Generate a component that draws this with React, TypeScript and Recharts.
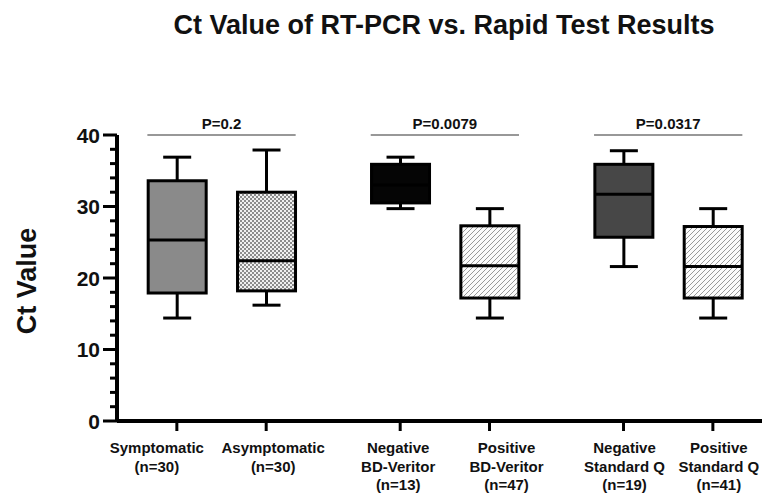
import { Bar, ComposedChart, ReferenceLine, XAxis, YAxis } from 'recharts';

// Box plot of Ct values: whisker low, Q1, median, Q3, whisker high per group
const categories = [
  ['Symptomatic', '(n=30)'],
  ['Asymptomatic', '(n=30)'],
  ['Negative', 'BD-Veritor', '(n=13)'],
  ['Positive', 'BD-Veritor', '(n=47)'],
  ['Negative', 'Standard Q', '(n=19)'],
  ['Positive', 'Standard Q', '(n=41)'],
];
const mins = [14.4, 16.2, 29.7, 14.4, 21.6, 14.4];
const q1s = [17.9, 18.2, 30.5, 17.2, 25.7, 17.2];
const medians = [25.3, 22.4, 33.0, 21.7, 31.7, 21.6];
const q3s = [33.6, 32.0, 35.9, 27.3, 35.9, 27.2];
const maxs = [36.9, 37.9, 36.9, 29.7, 37.8, 29.7];

// one p-value per pair of groups, drawn at the top of the axis
const pValues = ['P=0.2', 'P=0.0079', 'P=0.0317'];
const bracketLevel = 40;

const yTicks = [0, 2, 4, 6, 8, 10, 12, 14, 16, 18, 20, 22, 24, 26, 28, 30, 32, 34, 36, 38, 40];
const yLabels = [0, 10, 20, 30, 40];

// styling
const FONT = '"Liberation Sans", Arial, Helvetica, sans-serif';
const fills = ['#8a8a8a', 'url(#checker)', '#050505', 'url(#hatch)', '#474747', 'url(#hatch)'];
const labelNudge = [-20, 7, -2, 17, 1, 6];
const PAIR_STEP = 2.5; // pairs sit 1.5 slots apart

const slotOf = (i: number) => Math.floor(i / 2) * PAIR_STEP + (i % 2);

const rows = categories.map((lines, i) => ({
  slot: slotOf(i),
  lines,
  min: mins[i],
  q1: q1s[i],
  med: medians[i],
  q3: q3s[i],
  max: maxs[i],
  fill: fills[i],
  nudge: labelNudge[i],
}));

function BoxShape(props: any) {
  const { x, y, width, height, payload } = props;
  const { min, q1, med, q3, max, fill } = payload;
  const py = (v: number) => y + ((max - v) / (max - min)) * height;
  const cx = x + width / 2;
  const sw = 3;
  return (
    <g stroke="#000" strokeWidth={sw} fill="none">
      <line x1={cx} x2={cx} y1={py(max)} y2={py(q3)} />
      <line x1={cx} x2={cx} y1={py(q1)} y2={py(min)} />
      <line x1={cx - 14} x2={cx + 14} y1={py(max)} y2={py(max)} />
      <line x1={cx - 14} x2={cx + 14} y1={py(min)} y2={py(min)} />
      <rect x={x} y={py(q3)} width={width} height={py(q1) - py(q3)} fill={fill} />
      <line x1={x} x2={x + width} y1={py(med)} y2={py(med)} />
    </g>
  );
}

function YTick(props: any) {
  const { x, y, payload } = props;
  const major = yLabels.includes(payload.value);
  return (
    <g>
      <line x1={x - (major ? 14 : 7)} x2={x} y1={y} y2={y} stroke="#000" strokeWidth={3} />
      {major && (
        <text x={x - 17} y={y + 7.5} textAnchor="end" fontFamily={FONT} fontWeight="bold" fontSize={21} fill="#111">
          {payload.value}
        </text>
      )}
    </g>
  );
}

function XTick(props: any) {
  const { x, y, payload, index } = props;
  const row = rows.find((r) => r.slot === payload.value) ?? rows[index];
  return (
    <g>
      <line x1={x} x2={x} y1={y} y2={y + 10} stroke="#000" strokeWidth={3} />
      <text textAnchor="middle" fontFamily={FONT} fontWeight="bold" fontSize={15} fill="#111">
        {row.lines.map((t, k) => (
          <tspan key={k} x={x + row.nudge} y={y + 32 + k * 18.5}>
            {t}
          </tspan>
        ))}
      </text>
    </g>
  );
}

export default function App() {
  return (
    <div style={{ position: 'absolute', left: 0, top: 0, width: 769, height: 493, background: '#fff' }}>
      <ComposedChart
        width={769}
        height={493}
        data={rows}
        margin={{ top: 135, right: 7, bottom: 0, left: 0 }}
      >
        <XAxis
          type="number"
          dataKey="slot"
          domain={[-0.67, 6.55]}
          ticks={rows.map((r) => r.slot)}
          interval={0}
          tickSize={0}
          tickMargin={0}
          height={72}
          tick={<XTick />}
          axisLine={{ stroke: '#000', strokeWidth: 4 }}
        />
        <YAxis
          type="number"
          domain={[0, 40]}
          ticks={yTicks}
          interval={0}
          tickSize={0}
          tickMargin={0}
          width={117}
          tick={<YTick />}
          axisLine={{ stroke: '#000', strokeWidth: 4 }}
        />
        {pValues.map((p, k) => (
          <ReferenceLine
            key={p}
            segment={[
              { x: slotOf(2 * k) - 0.33, y: bracketLevel },
              { x: slotOf(2 * k + 1) + 0.33, y: bracketLevel },
            ]}
            stroke="#333"
            strokeWidth={1.2}
            ifOverflow="visible"
            label={{
              value: p,
              position: 'top',
              offset: 6,
              fill: '#111',
              fontSize: 15,
              fontWeight: 'bold',
              fontFamily: FONT,
            }}
          />
        ))}
        <Bar dataKey={(d: any) => [d.min, d.max]} barSize={58} shape={<BoxShape />} isAnimationActive={false} />
      </ComposedChart>
      <svg
        width={769}
        height={493}
        style={{ position: 'absolute', left: 0, top: 0, pointerEvents: 'none' }}
      >
        <defs>
          <pattern id="checker" width="4" height="4" patternUnits="userSpaceOnUse">
            <rect width="4" height="4" fill="#f0f0f0" />
            <rect width="2" height="2" fill="#8c8c8c" />
            <rect x="2" y="2" width="2" height="2" fill="#8c8c8c" />
          </pattern>
          <pattern id="hatch" width="5" height="5" patternUnits="userSpaceOnUse">
            <rect width="5" height="5" fill="#fbfbfb" />
            <path d="M0,5 L5,0 M-1,1 L1,-1 M4,6 L6,4" stroke="#999" strokeWidth="1" />
          </pattern>
        </defs>
        <text x={444} y={34} textAnchor="middle" fontFamily={FONT} fontWeight="bold" fontSize={27} fill="#111">
          Ct Value of RT-PCR vs. Rapid Test Results
        </text>
        <text
          x={36}
          y={281}
          transform="rotate(-90 36 281)"
          textAnchor="middle"
          fontFamily={FONT}
          fontWeight="bold"
          fontSize={27}
          fill="#111"
        >
          Ct Value
        </text>
      </svg>
    </div>
  );
}
